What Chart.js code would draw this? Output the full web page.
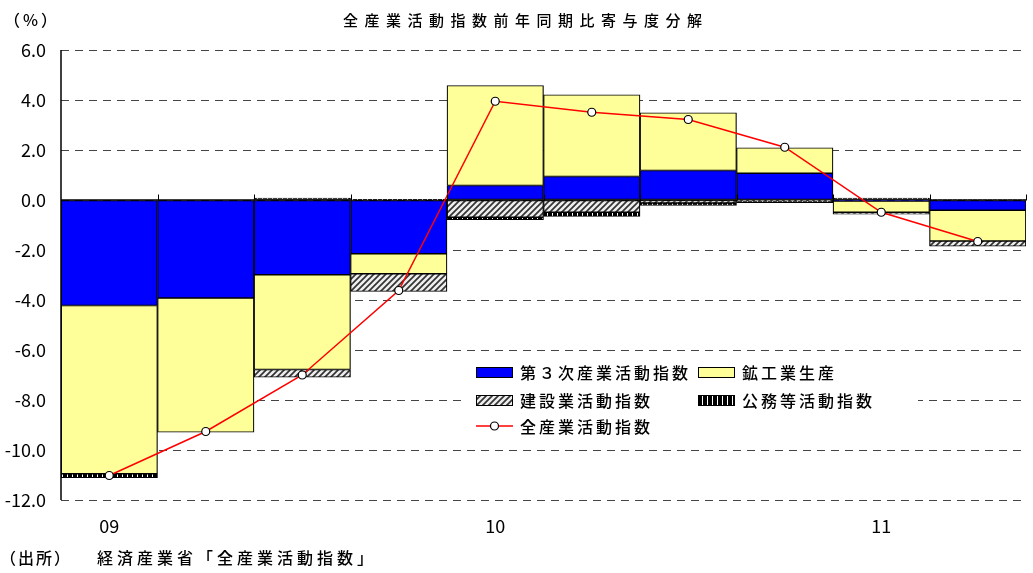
<!DOCTYPE html>
<html>
<head>
<meta charset="utf-8">
<script src="https://cdn.jsdelivr.net/npm/chart.js@4.4.1/dist/chart.umd.min.js"></script>
<style>
  html, body { margin: 0; padding: 0; background: #fff; }
  canvas { display: block; }
</style>
</head>
<body>
<canvas id="c" width="1033" height="573"></canvas>
<script>
// Quarterly contributions to the year-on-year change of the all-industry activity index (%)
const quarterLabels = ['09', '', '', '', '10', '', '', '', '11', ''];
const tertiary     = [-4.22, -3.92, -2.99, -2.15, 0.58, 0.94, 1.18, 1.07, -0.04, -0.41];
const mining       = [-6.73, -5.37, -3.79, -0.80, 4.00, 3.27, 2.31, 1.02, -0.45, -1.23];
const construction = [0.00, 0.00, -0.31, -0.71, -0.69, -0.49, -0.12, -0.03, -0.08, -0.21];
const publicSvc    = [-0.16, 0.00, 0.08, 0.03, -0.10, -0.17, -0.10, -0.08, 0.08, 0.02];
const allIndustry  = [-11.02, -9.26, -7.00, -3.62, 3.95, 3.51, 3.22, 2.11, -0.49, -1.66];
const seriesNames  = ['第３次産業活動指数', '鉱工業生産', '建設業活動指数', '公務等活動指数', '全産業活動指数'];

const titleText  = '全産業活動指数前年同期比寄与度分解';
const unitText   = '（%）';
const sourceHead = '（出所）';
const sourceBody = '経済産業省「全産業活動指数」';

const FONT = '"Noto Sans CJK JP", "Noto Sans", sans-serif';

// Fill patterns
function hatchPattern() {
  const s = 6;
  const c = document.createElement('canvas');
  c.width = s; c.height = s;
  const g = c.getContext('2d');
  g.fillStyle = '#eeeeee';
  g.fillRect(0, 0, s, s);
  g.strokeStyle = '#333';
  g.lineWidth = 1.7;
  g.beginPath();
  g.moveTo(-1, s + 1); g.lineTo(s + 1, -1);
  g.moveTo(-1, 1); g.lineTo(1, -1);
  g.moveTo(s - 1, s + 1); g.lineTo(s + 1, s - 1);
  g.stroke();
  return g.createPattern(c, 'repeat');
}
function stripePattern() {
  const c = document.createElement('canvas');
  c.width = 5; c.height = 5;
  const g = c.getContext('2d');
  g.fillStyle = '#000';
  g.fillRect(0, 0, 5, 5);
  g.fillStyle = '#fff';
  g.fillRect(2, 0, 1, 5);
  return g.createPattern(c, 'repeat');
}

const ctx0 = document.getElementById('c').getContext('2d');
const hatch = hatchPattern();
const stripes = stripePattern();

const barCommon = {
  type: 'bar',
  borderColor: '#000',
  borderWidth: 1.2,
  borderSkipped: false,
  barPercentage: 1.0,
  categoryPercentage: 1.0,
  stack: 'parts',
  order: 1
};

// Zero axis line, title, legend and footnote
const decorations = {
  id: 'decorations',
  beforeDatasetsDraw(chart) {
    const { ctx, chartArea: a, scales: { y } } = chart;
    const y0 = y.getPixelForValue(0);
    ctx.save();
    ctx.strokeStyle = '#000';
    ctx.lineWidth = 1.5;
    ctx.beginPath();
    ctx.moveTo(a.left, y0); ctx.lineTo(a.right, y0);
    ctx.stroke();
    ctx.restore();
  },
  afterDatasetsDraw(chart) {
    const { ctx, chartArea: a, scales: { y } } = chart;
    const y0 = Math.round(y.getPixelForValue(0)) + 0.5;
    ctx.save();
    ctx.strokeStyle = '#000';
    ctx.lineWidth = 1;
    const n = quarterLabels.length;
    ctx.beginPath();
    for (let i = 1; i <= n; i++) {
      const x = Math.round(a.left + i * a.width / n) + 0.5;
      ctx.moveTo(x, y0 - 6); ctx.lineTo(x, y0);
    }
    ctx.stroke();
    // y axis line
    ctx.lineWidth = 1.5;
    ctx.beginPath();
    ctx.moveTo(a.left, a.top); ctx.lineTo(a.left, a.bottom);
    ctx.stroke();
    ctx.restore();
  },
  afterDraw(chart) {
    const ctx = chart.ctx;
    ctx.save();
    ctx.fillStyle = '#000';
    ctx.textBaseline = 'middle';
    ctx.textAlign = 'left';

    ctx.font = '500 15px ' + FONT;
    ctx.letterSpacing = '6.5px';
    ctx.fillText(titleText, 343, 20);

    ctx.letterSpacing = '3px';
    ctx.font = '500 16px ' + FONT;
    ctx.fillText(unitText, 4, 20);

    ctx.letterSpacing = '2px';
    ctx.fillText(sourceHead, 0, 558);
    ctx.letterSpacing = '4px';
    ctx.fillText(sourceBody, 97, 558);

    // legend
    ctx.fillStyle = '#fff';
    ctx.fillRect(466, 352, 452, 94);
    const spots = [[476, 372], [698, 372], [476, 400], [698, 400], [476, 426]];
    ctx.font = '500 16px ' + FONT;
    ctx.letterSpacing = '3px';
    chart.data.datasets.forEach((ds, i) => {
      const [sx, sy] = spots[i];
      if (ds.type === 'line') {
        ctx.strokeStyle = ds.borderColor;
        ctx.lineWidth = 1.5;
        ctx.beginPath();
        ctx.moveTo(sx, sy); ctx.lineTo(sx + 37, sy);
        ctx.stroke();
        ctx.fillStyle = '#fff';
        ctx.strokeStyle = '#000';
        ctx.lineWidth = 1.2;
        ctx.beginPath();
        ctx.arc(sx + 18.5, sy, 4, 0, Math.PI * 2);
        ctx.fill(); ctx.stroke();
      } else {
        ctx.fillStyle = ds.backgroundColor;
        ctx.fillRect(sx, sy - 5, 37, 10);
        ctx.strokeStyle = '#000';
        ctx.lineWidth = 1;
        ctx.strokeRect(sx + 0.5, sy - 4.5, 36, 10);
      }
      ctx.fillStyle = '#000';
      ctx.fillText(ds.label, sx + 44, sy + 1);
    });
    ctx.restore();
  }
};

new Chart(ctx0, {
  data: {
    labels: quarterLabels,
    datasets: [
      Object.assign({}, barCommon, { label: seriesNames[0], data: tertiary, backgroundColor: '#0000ff' }),
      Object.assign({}, barCommon, { label: seriesNames[1], data: mining, backgroundColor: '#ffff99' }),
      Object.assign({}, barCommon, { label: seriesNames[2], data: construction, backgroundColor: hatch }),
      Object.assign({}, barCommon, { label: seriesNames[3], data: publicSvc, backgroundColor: stripes }),
      {
        type: 'line',
        label: seriesNames[4],
        data: allIndustry,
        stack: 'total',
        order: 0,
        borderColor: '#ff0000',
        borderWidth: 1.5,
        tension: 0,
        pointRadius: 4,
        pointBorderWidth: 1.2,
        pointBackgroundColor: '#fff',
        pointBorderColor: '#000'
      }
    ]
  },
  options: {
    responsive: false,
    animation: false,
    devicePixelRatio: 1,
    layout: { padding: { top: 50, right: 7, left: 0, bottom: 0 } },
    plugins: {
      legend: { display: false },
      title: { display: false },
      tooltip: { enabled: false }
    },
    scales: {
      x: {
        type: 'category',
        stacked: true,
        grid: { display: false, drawTicks: false },
        border: { display: false },
        ticks: {
          autoSkip: false,
          maxRotation: 0,
          padding: 15,
          color: '#000',
          font: { family: FONT, size: 18 }
        },
        afterFit(scale) { scale.height = 73; }
      },
      y: {
        stacked: true,
        min: -12,
        max: 6,
        grid: { color: '#444', lineWidth: 1, drawTicks: false },
        border: { display: false, dash: [8, 6] },
        ticks: {
          stepSize: 2,
          padding: 15,
          color: '#000',
          font: { family: FONT, size: 18 },
          callback: v => v.toFixed(1)
        },
        afterFit(scale) { scale.width = 61; }
      }
    }
  },
  plugins: [decorations]
});
</script>
</body>
</html>
